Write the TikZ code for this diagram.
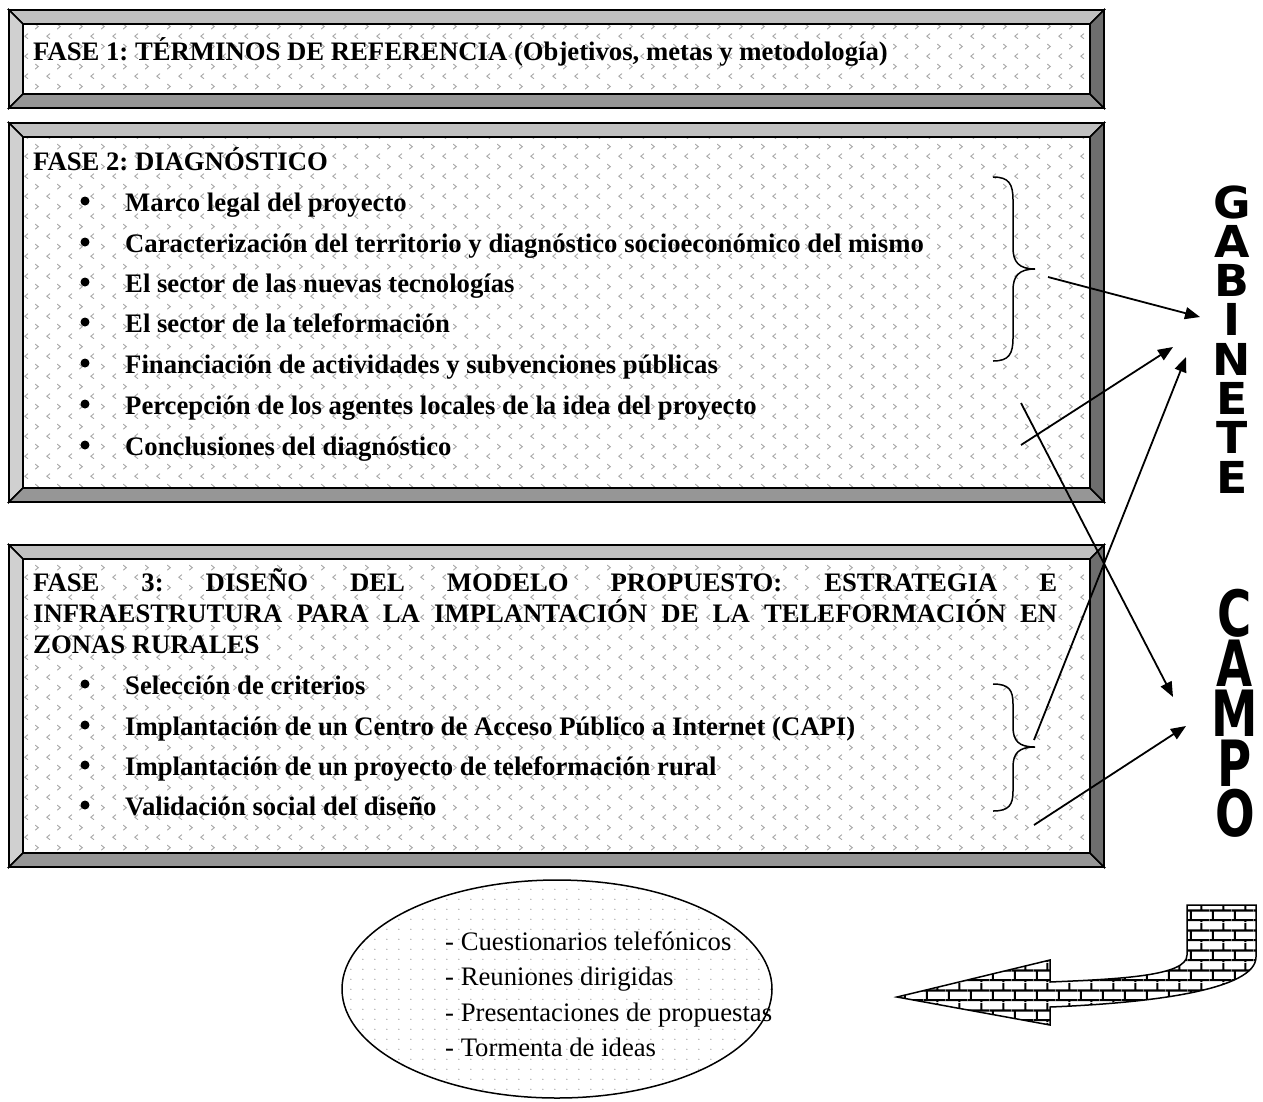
\documentclass[tikz,border=0pt]{standalone}
\usepackage{fontspec}
\setmainfont{Liberation Serif}
\newfontfamily\heavy{DejaVu Sans}
\usetikzlibrary{patterns,arrows.meta,shapes.geometric}

\pgfdeclarepatterninherentlycolored{chev}{\pgfpointorigin}{\pgfqpoint{22pt}{20pt}}{\pgfqpoint{22pt}{20pt}}{%
  \pgfsetstrokecolor{black!33}\pgfsetlinewidth{1pt}\pgfsetroundcap
  \pgfpathmoveto{\pgfqpoint{6pt}{2.5pt}}\pgfpathlineto{\pgfqpoint{3pt}{5pt}}\pgfpathlineto{\pgfqpoint{6pt}{7.5pt}}
  \pgfpathmoveto{\pgfqpoint{14pt}{12.5pt}}\pgfpathlineto{\pgfqpoint{17pt}{15pt}}\pgfpathlineto{\pgfqpoint{14pt}{17.5pt}}
  \pgfusepath{stroke}}
\pgfdeclarepatterninherentlycolored{dotsg}{\pgfpointorigin}{\pgfqpoint{12pt}{10pt}}{\pgfqpoint{12pt}{10pt}}{%
  \pgfsetfillcolor{black!35}\pgfpathcircle{\pgfqpoint{3pt}{3pt}}{0.8pt}\pgfusepath{fill}}
\pgfdeclarepatterninherentlycolored{bricksb}{\pgfpointorigin}{\pgfqpoint{22pt}{20pt}}{\pgfqpoint{22pt}{20pt}}{%
  \pgfsetfillcolor{white}\pgfpathrectangle{\pgfpointorigin}{\pgfqpoint{22pt}{20pt}}\pgfusepath{fill}
  \pgfsetstrokecolor{black}\pgfsetlinewidth{2.2pt}
  \pgfpathmoveto{\pgfqpoint{0pt}{2pt}}\pgfpathlineto{\pgfqpoint{22pt}{2pt}}
  \pgfpathmoveto{\pgfqpoint{0pt}{12pt}}\pgfpathlineto{\pgfqpoint{22pt}{12pt}}
  \pgfpathmoveto{\pgfqpoint{3pt}{2pt}}\pgfpathlineto{\pgfqpoint{3pt}{12pt}}
  \pgfpathmoveto{\pgfqpoint{14pt}{12pt}}\pgfpathlineto{\pgfqpoint{14pt}{20pt}}
  \pgfpathmoveto{\pgfqpoint{14pt}{0pt}}\pgfpathlineto{\pgfqpoint{14pt}{2pt}}
  \pgfusepath{stroke}}

\definecolor{bevT}{HTML}{C0C0C0}
\definecolor{bevL}{HTML}{D0D0D0}
\definecolor{bevB}{HTML}{969696}
\definecolor{bevR}{HTML}{6E6E6E}

% bevel box: #1 name, #2 x1, #3 y1, #4 x2, #5 y2, #6 bevel
\newcommand\bevelbox[6]{%
  \coordinate (#1-nw) at (#2,#3);
  \coordinate (#1-se) at (#4,#5);
  \fill[white] ({#2+#6},{#3+#6}) rectangle ({#4-#6},{#5-#6});
  \fill[pattern=chev] ({#2+#6},{#3+#6}) rectangle ({#4-#6},{#5-#6});
  \filldraw[fill=bevT,framel] (#2,#3) -- (#4,#3) -- ({#4-#6},{#3+#6}) -- ({#2+#6},{#3+#6}) -- cycle;
  \filldraw[fill=bevL,framel] (#2,#3) -- ({#2+#6},{#3+#6}) -- ({#2+#6},{#5-#6}) -- (#2,#5) -- cycle;
  \filldraw[fill=bevB,framel] (#2,#5) -- ({#2+#6},{#5-#6}) -- ({#4-#6},{#5-#6}) -- (#4,#5) -- cycle;
  \filldraw[fill=bevR,framel] (#4,#3) -- (#4,#5) -- ({#4-#6},{#5-#6}) -- ({#4-#6},{#3+#6}) -- cycle;
}

\tikzset{
  framel/.style={draw=black,line width=1.6pt,line join=miter},
  bodytxt/.style={anchor=base west,inner sep=0pt,font=\frenchspacing\bfseries\fontsize{26.7}{30.7}\selectfont},
  elltxt/.style={anchor=base west,inner sep=0pt,font=\frenchspacing\fontsize{26.7}{30.7}\selectfont},
  bul/.style={circle,fill=black,inner sep=0pt,minimum size=9pt},
  conn/.style={line width=1.8pt,-{Triangle[length=15pt,width=12pt]}},
  bracel/.style={line width=1.5pt},
  bigletter/.style={font=\heavy\bfseries\fontsize{44}{44}\selectfont,inner sep=0pt,anchor=base}
}

\begin{document}
\begin{tikzpicture}[x=1pt,y=-1pt]
\useasboundingbox (0,0) rectangle (1263,1101);

% boxes
\bevelbox{b1}{9}{10}{1104}{108}{14}
\bevelbox{b2}{9}{123}{1104}{502}{14}
\bevelbox{b3}{9}{545}{1104}{867}{14}

% box 1
\node[bodytxt] (t1) at (33,60) {FASE 1: TÉRMINOS DE REFERENCIA (Objetivos, metas y metodología)};

% box 2
\node[bodytxt] (t2) at (33,170) {FASE 2: DIAGNÓSTICO};
\foreach \y/\txt [count=\i] in {
  211/Marco legal del proyecto,
  252/Caracterización del territorio y diagnóstico socioeconómico del mismo,
  292/El sector de las nuevas tecnologías,
  332/El sector de la teleformación,
  373/Financiación de actividades y subvenciones públicas,
  414/Percepción de los agentes locales de la idea del proyecto,
  455/Conclusiones del diagnóstico}{
  \node[bul] (bb\i) at (85,\y-10) {};
  \node[bodytxt] (d\i) at (125,\y) {\txt};
}

% box 3
\node[bodytxt] (t3a) at (33,591) {\makebox[1024pt][s]{FASE 3: DISEÑO DEL MODELO PROPUESTO: ESTRATEGIA E}};
\node[bodytxt] (t3b) at (33,622) {\makebox[1024pt][s]{INFRAESTRUTURA PARA LA IMPLANTACIÓN DE LA TELEFORMACIÓN EN}};
\node[bodytxt] (t3c) at (33,653) {ZONAS RURALES};
\foreach \y/\txt [count=\i] in {
  694/Selección de criterios,
  735/Implantación de un Centro de Acceso Público a Internet (CAPI),
  775/Implantación de un proyecto de teleformación rural,
  815/Validación social del diseño}{
  \node[bul] (cb\i) at (85,\y-10) {};
  \node[bodytxt] (c\i) at (125,\y) {\txt};
}

% braces
\draw[bracel] (993,177) .. controls (1009,177) and (1013,184) .. (1013,200) -- (1013,248)
  .. controls (1013,262) and (1019,269) .. (1035,269)
  .. controls (1019,269) and (1013,276) .. (1013,290) -- (1013,338)
  .. controls (1013,354) and (1009,361) .. (993,361);
\coordinate (br1) at (1035,269);
\draw[bracel] (993,684) .. controls (1009,684) and (1013,690) .. (1013,704) -- (1013,727)
  .. controls (1013,741) and (1019,747) .. (1035,747)
  .. controls (1019,747) and (1013,753) .. (1013,767) -- (1013,791)
  .. controls (1013,805) and (1009,811) .. (993,811);
\coordinate (br2) at (1035,747);

% vertical words
\foreach \l [count=\i from 0] in {G,A,B,I,N,E,T,E}{
  \node[bigletter] (gab\i) at (1232,{218+39.3*\i}) {\scalebox{1.04}[1]{\l}};
}
\foreach \l [count=\i from 0] in {C,A,M,P,O}{
  \node[bigletter] (cam\i) at (1235,{636+50*\i}) {\scalebox{1.06}[1.45]{\l}};
}

% connectors
\coordinate (s1) at (1048,277);  \coordinate (e1) at (1200,317);
\coordinate (s2) at (1021,445);  \coordinate (e2) at (1173,347);
\coordinate (s3) at (1034,740);  \coordinate (e3) at (1186,357);
\coordinate (s4) at (1021,403);  \coordinate (e4) at (1173,697);
\coordinate (s5) at (1034,825);  \coordinate (e5) at (1186,726);
\draw[conn] (s1) -- (e1);
\draw[conn] (s2) -- (e2);
\draw[conn] (s3) -- (e3);
\draw[conn] (s4) -- (e4);
\draw[conn] (s5) -- (e5);

% ellipse
\node[ellipse,draw=black,line width=1.5pt,minimum width=430pt,minimum height=218pt,inner sep=0pt] (ell) at (557,989) {};
\fill[pattern=dotsg] (ell.center) ellipse [x radius=214pt,y radius=108pt];
\node[elltxt] (e1t) at (445,950) {- Cuestionarios telefónicos};
\node[elltxt] (e2t) at (445,985.5) {- Reuniones dirigidas};
\node[elltxt] (e3t) at (445,1021) {- Presentaciones de propuestas};
\node[elltxt] (e4t) at (445,1056) {- Tormenta de ideas};

% brick arrow
\filldraw[pattern=bricksb,draw=black,line width=1.5pt] (897,997) -- (1050,960) -- (1050,982)
  .. controls (1120,979) and (1187,976) .. (1187,955) -- (1187,905) -- (1256,905) -- (1256,957)
  .. controls (1256,990) and (1150,1003) .. (1050,1007) -- (1050,1025) -- cycle;
\end{tikzpicture}
\end{document}
